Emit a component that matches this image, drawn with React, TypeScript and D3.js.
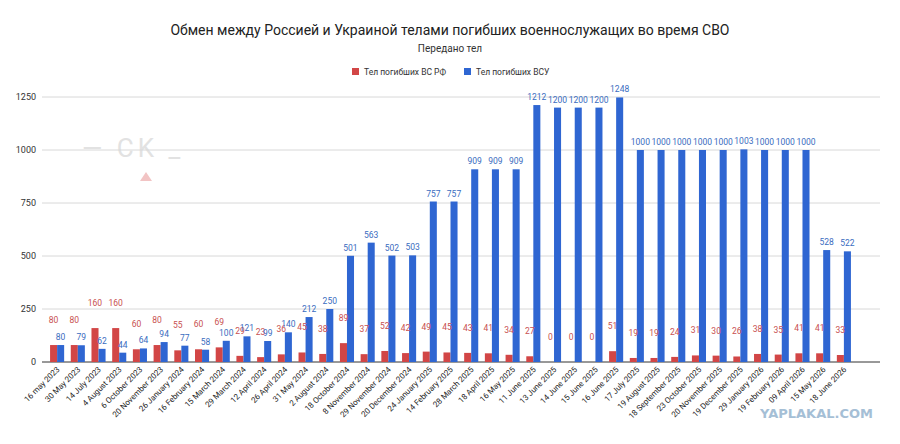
import { useEffect, useRef } from 'react';
import * as d3 from 'd3';

const dates = [
  '16 may 2023', '30 May 2023', '14 July 2023', '4 August 2023', '6 October 2023', '20 November 2023',
  '26 January 2024', '16 February 2024', '15 March 2024', '29 March 2024', '12 April 2024', '26 April 2024',
  '31 May 2024', '2 August 2024', '18 October 2024', '8 November 2024', '29 November 2024', '20 December 2024',
  '24 January 2025', '14 February 2025', '28 March 2025', '18 April 2025', '16 May 2025', '11 June 2025',
  '13 June 2025', '14 June 2025', '15 June 2025', '16 June 2025', '17 July 2025', '19 August 2025',
  '18 September 2025', '23 October 2025', '20 November 2025', '19 December 2025', '29 January 2026',
  '19 February 2026', '09 April 2026', '15 May 2026', '18 June 2026',
];
const rfBodies = [80, 80, 160, 160, 60, 80, 55, 60, 69, 29, 23, 36, 45, 38, 89, 37, 52, 42, 49, 45, 43, 41, 34, 27, 0, 0, 0, 51, 19, 19, 24, 31, 30, 26, 38, 35, 41, 41, 33];
const uaBodies = [80, 79, 62, 44, 64, 94, 77, 58, 100, 121, 99, 140, 212, 250, 501, 563, 502, 503, 757, 757, 909, 909, 909, 1212, 1200, 1200, 1200, 1248, 1000, 1000, 1000, 1000, 1000, 1003, 1000, 1000, 1000, 528, 522];
const yTicks = [0, 250, 500, 750, 1000, 1250];

const RED = '#d24646';
const BLUE = '#2f66d2';

export default function App() {
  const ref = useRef<SVGSVGElement>(null);

  useEffect(() => {
    const svg = d3.select(ref.current);
    svg.selectAll('*').remove();
    const W = 900, H = 444;
    const left = 42, right = 880, top = 97, bottom = 362;
    const font = 'Roboto, Arial, sans-serif';

    const x = d3.scaleBand().domain(dates).range([48, 853]).paddingInner(0.32).paddingOuter(0.1);
    const y = d3.scaleLinear().domain([0, 1250]).range([bottom, top]);
    const bw = x.bandwidth() / 2;

    svg.append('rect').attr('width', W).attr('height', H).attr('fill', '#fff');

    svg.append('text').attr('x', W / 2).attr('y', 35).attr('text-anchor', 'middle')
      .attr('font-family', font).attr('font-size', 14).attr('fill', '#222')
      .text('Обмен между Россией и Украиной телами погибших военнослужащих во время СВО');
    svg.append('text').attr('x', W / 2).attr('y', 52).attr('text-anchor', 'middle')
      .attr('font-family', font).attr('font-size', 10).attr('fill', '#333')
      .text('Передано тел');

    // legend
    const legend = [
      { label: 'Тел погибших ВС  РФ', color: RED, x: 352 },
      { label: 'Тел погибших ВСУ', color: BLUE, x: 464 },
    ];
    legend.forEach(l => {
      svg.append('rect').attr('x', l.x).attr('y', 68).attr('width', 7).attr('height', 7).attr('fill', l.color);
      svg.append('text').attr('x', l.x + 12).attr('y', 75).attr('font-family', font).attr('font-size', 8.5)
        .attr('fill', '#333').text(l.label);
    });

    // watermark
    svg.append('text').attr('x', 82).attr('y', 157).attr('font-family', font).attr('font-size', 26)
      .attr('fill', '#e2e2e2').attr('letter-spacing', 4).text('— CK _');
    svg.append('path').attr('d', 'M140,181 L146,172 L152,181 Z').attr('fill', '#f2c4c4');

    // grid
    svg.append('g').selectAll('line').data(yTicks).join('line')
      .attr('x1', left).attr('x2', right).attr('y1', d => y(d)).attr('y2', d => y(d))
      .attr('stroke', d => d === 0 ? '#333' : '#d8d8d8').attr('stroke-width', 1);
    svg.append('g').selectAll('text').data(yTicks).join('text')
      .attr('x', 36).attr('y', d => y(d) + 3).attr('text-anchor', 'end')
      .attr('font-family', font).attr('font-size', 9).attr('fill', '#333').text(d => d);

    const g = svg.append('g');
    dates.forEach((d, i) => {
      const x0 = x(d)!;
      g.append('rect').attr('x', x0).attr('y', y(rfBodies[i])).attr('width', bw)
        .attr('height', bottom - y(rfBodies[i])).attr('fill', RED);
      g.append('rect').attr('x', x0 + bw).attr('y', y(uaBodies[i])).attr('width', bw)
        .attr('height', bottom - y(uaBodies[i])).attr('fill', BLUE);
      g.append('text').attr('x', x0 + bw / 2).attr('y', y(rfBodies[i]) - 22)
        .attr('text-anchor', 'middle').attr('font-family', font).attr('font-size', 8.5)
        .attr('fill', '#c85050').text(rfBodies[i]);
      g.append('text').attr('x', x0 + bw * 1.5).attr('y', y(uaBodies[i]) - 5)
        .attr('text-anchor', 'middle').attr('font-family', font).attr('font-size', 8.5)
        .attr('fill', '#3a6cc0').text(uaBodies[i]);
      const cx = x0 + bw;
      g.append('text').attr('transform', `translate(${cx + 3},${bottom + 8}) rotate(-45)`)
        .attr('text-anchor', 'end').attr('font-family', font).attr('font-size', 8)
        .attr('fill', '#222').text(d);
    });

    svg.append('text').attr('x', 873).attr('y', 418).attr('text-anchor', 'end')
      .attr('font-family', 'DejaVu Sans, sans-serif').attr('font-weight', 'bold').attr('font-size', 13)
      .attr('fill', '#8fb0cc').attr('opacity', 0.8).text('YAPLAKAL.COM');
  }, []);

  return <svg ref={ref} width={900} height={444} style={{ display: 'block', margin: -8 }} />;
}
